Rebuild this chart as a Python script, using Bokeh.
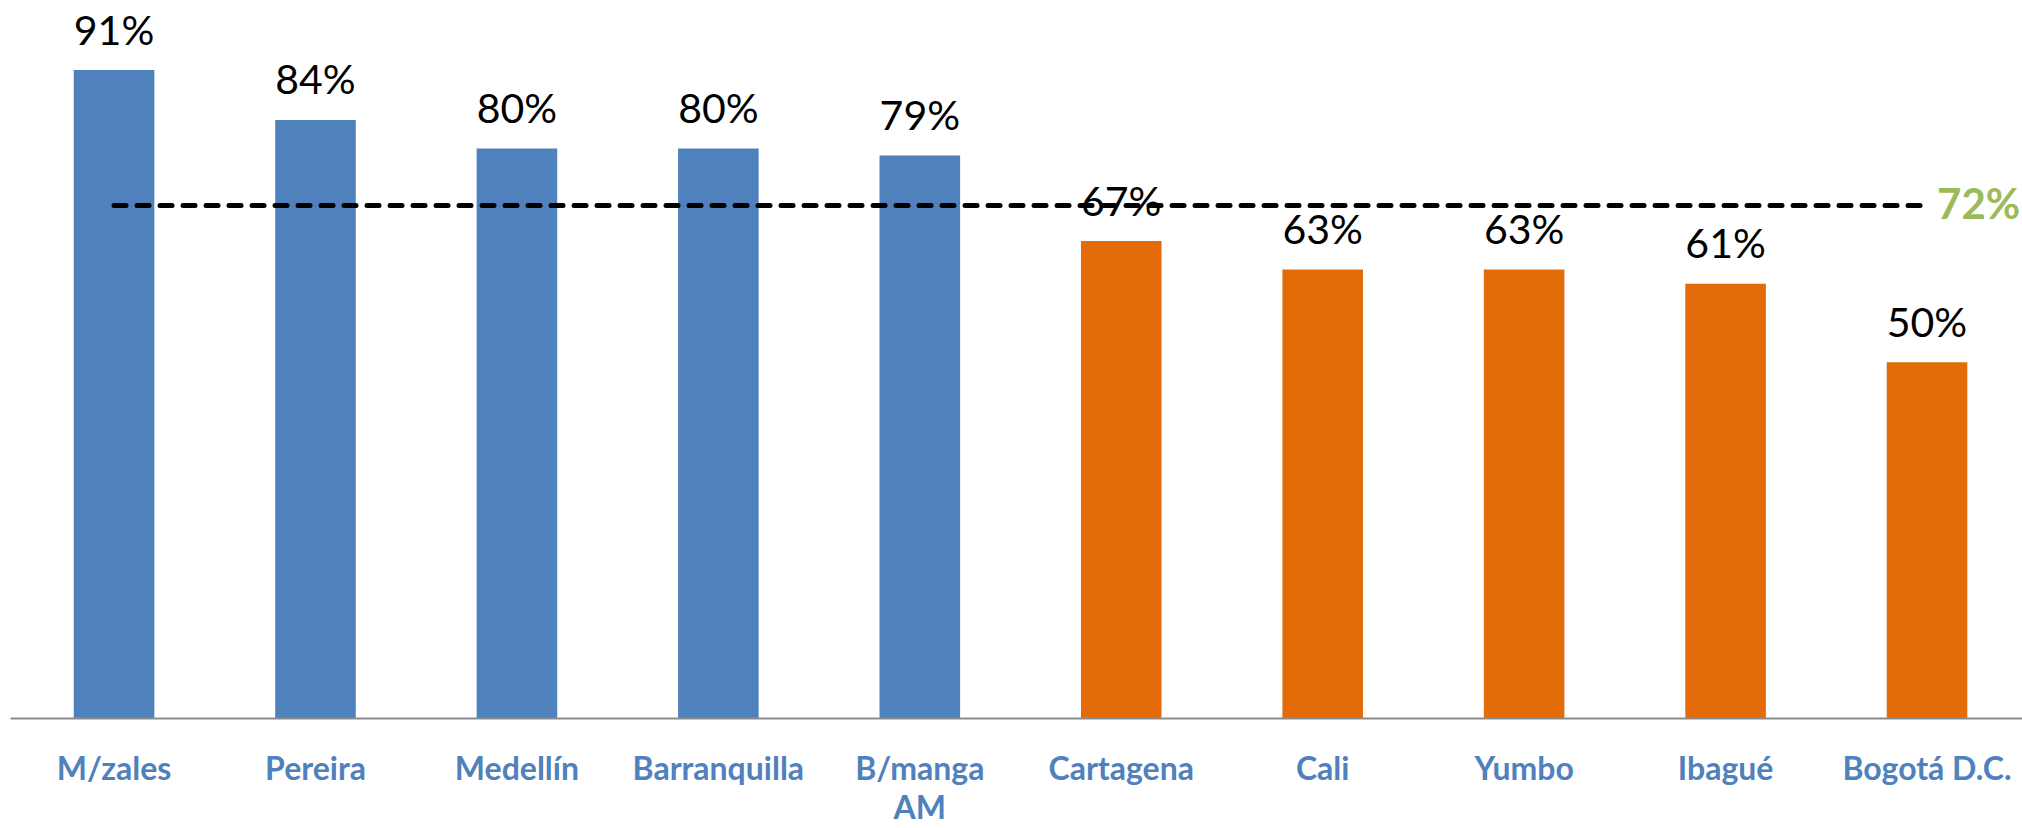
from bokeh.plotting import figure
from bokeh.models import ColumnDataSource, Range1d, FixedTicker
from bokeh.core.properties import value
from bokeh.embed import file_html
from bokeh.resources import INLINE

cities = ["M/zales", "Pereira", "Medellín", "Barranquilla", "B/manga\nAM",
          "Cartagena", "Cali", "Yumbo", "Ibagué", "Bogotá D.C."]
values = [91, 84, 80, 80, 79, 67, 63, 63, 61, 50]
average = 72

BLUE = "#4F81BD"
ORANGE = "#E36C09"
GREEN = "#9BBB59"
FONT = "Lato"

xs = list(range(len(cities)))
colors = [BLUE if v > average else ORANGE for v in values]
labels = [f"{v}%" for v in values]
src = ColumnDataSource(dict(x=xs, top=values, color=colors, label=labels))

p = figure(width=2022, height=828, output_backend="svg", toolbar_location=None,
           x_range=Range1d(-0.514, 9.474), y_range=Range1d(0, 100.77),
           min_border_left=10, min_border_right=0, min_border_top=0,
           min_border_bottom=0)
p.outline_line_color = None
p.xgrid.visible = False
p.ygrid.visible = False
p.yaxis.visible = False
p.background_fill_color = "white"
p.border_fill_color = "white"

p.vbar(x="x", top="top", width=0.4, bottom=0, color="color", source=src, line_color=None)

p.text(x="x", y="top", text="label", source=src, text_align="center",
       text_baseline="alphabetic", y_offset=-41, text_color="black",
       text_font=value(FONT), text_font_size="41px")

# average line from first to last category center
p.line(x=[xs[0], xs[-1]], y=[average, average], line_color="black", line_width=5,
       line_dash="12 11", line_cap="round")
p.text(x=[xs[-1]], y=[average], text=[f"{average}%"], x_offset=10, y_offset=-2,
       text_align="left", text_baseline="middle", text_color=GREEN,
       text_font=value(FONT), text_font_style="bold", text_font_size="42px")

ax = p.xaxis[0]
ax.ticker = FixedTicker(ticks=xs)
ax.major_label_overrides = {i: c for i, c in enumerate(cities)}
ax.axis_line_color = "#8C8C8C"
ax.axis_line_width = 2
ax.major_tick_line_color = None
ax.minor_tick_line_color = None
ax.major_tick_out = 0
ax.major_tick_in = 0
ax.major_label_standoff = 29
ax.major_label_text_font = FONT
ax.major_label_text_font_style = "bold"
ax.major_label_text_font_size = "32px"
ax.major_label_text_line_height = 1.0
ax.major_label_text_color = BLUE

open("out.html", "w").write(file_html(p, INLINE))
